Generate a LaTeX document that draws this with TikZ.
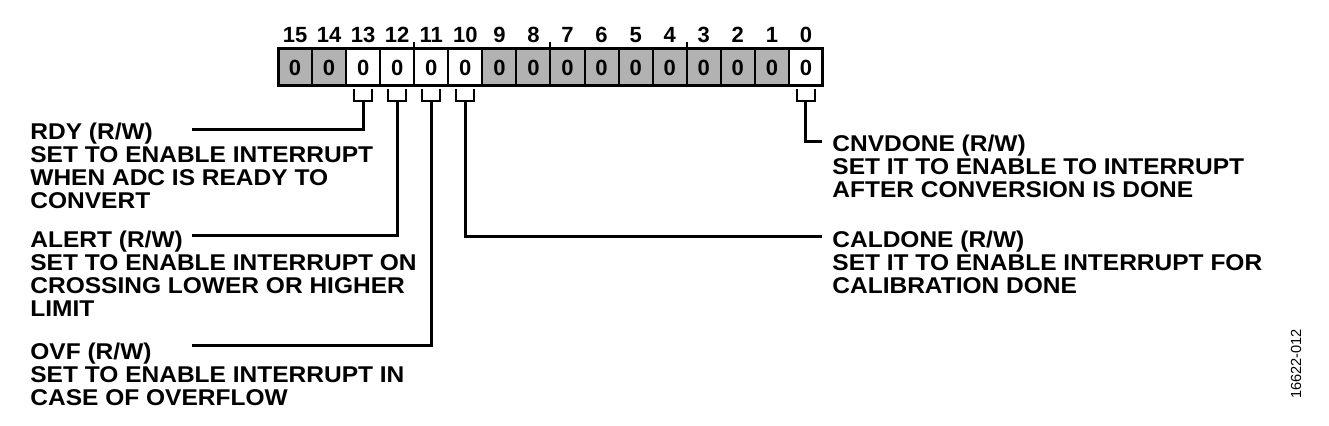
\documentclass[tikz,border=0pt]{standalone}
\usepackage{fontspec}
\setmainfont{Liberation Sans}
\newfontfamily\labelfont{Liberation Sans}[FakeStretch=1.075]
\usetikzlibrary{matrix,positioning}

\tikzset{
  cell/.style={draw, line width=1pt, fill=black!30, minimum width=17.03pt, minimum height=18.5pt,
    inner sep=0pt, outer sep=0pt, font=\fontsize{11}{11}\selectfont\bfseries},
  on/.style={fill=white},
  bitnum/.style={inner sep=0pt, font=\fontsize{11}{11}\selectfont\bfseries},
  field/.style={align=left, anchor=north west, inner sep=0pt, font=\labelfont\fontsize{11.4}{11.35}\selectfont\bfseries},
  wire/.style={line width=1.5pt},
}

\begin{document}
\begin{tikzpicture}[x=0.5pt,y=-0.5pt]
\useasboundingbox (0,0) rectangle (1329,426);
\matrix (reg) at (277,48) [matrix of nodes, anchor=north west, inner sep=0pt, outer sep=0pt,
column sep={17.03pt,between origins}, nodes={cell}]
{
|(c15)| 0 & |(c14)| 0 & |[on](c13)| 0 & |[on](c12)| 0 & |[on](c11)| 0 & |[on](c10)| 0 & |(c9)| 0 & |(c8)| 0 &
|(c7)| 0 & |(c6)| 0 & |(c5)| 0 & |(c4)| 0 & |(c3)| 0 & |(c2)| 0 & |(c1)| 0 & |[on](c0)| 0 \\
};
\draw[wire] (c15.north west) rectangle (c0.south east);
\foreach \b in {0,...,15} \node[bitnum, above=3pt] (n\b) at (c\b.north) {\b};
\foreach \b in {12,8,4} \draw[line width=1pt] (c\b.north east) -- ++(0,-7);
% brackets under the enable bits
\foreach \b in {13,12,11,10,0} {
  \draw[line width=1pt] (c\b.south) ++(-9,3) |- ++(18,12) -- ++(0,-12);
  \path (c\b.south) ++(0,15) coordinate (b\b);
}

\node[field] (rdy) at (30,123) {RDY (R/W)\\SET TO ENABLE INTERRUPT\\WHEN ADC IS READY TO\\CONVERT};
\node[field] (alert) at (30,231) {ALERT (R/W)\\SET TO ENABLE INTERRUPT ON\\CROSSING LOWER OR HIGHER\\LIMIT};
\node[field] (ovf) at (30,343) {OVF (R/W)\\SET TO ENABLE INTERRUPT IN\\CASE OF OVERFLOW};
\node[field] (cnvdone) at (832,135) {CNVDONE (R/W)\\SET IT TO ENABLE TO INTERRUPT\\AFTER CONVERSION IS DONE};
\node[field] (caldone) at (832,231) {CALDONE (R/W)\\SET IT TO ENABLE INTERRUPT FOR\\CALIBRATION DONE};

\coordinate (rdyend) at (192,130);
\coordinate (alertend) at (192,236);
\coordinate (ovfend) at (192,346);
\coordinate (cnvend) at (822,142);
\coordinate (calend) at (822,237);
\draw[wire] (b13) |- (rdyend);
\draw[wire] (b12) |- (alertend);
\draw[wire] (b11) |- (ovfend);
\draw[wire] (b10) |- (calend);
\draw[wire] (b0) |- (cnvend);

\node[rotate=90, inner sep=0pt, font=\fontsize{7.3}{7.3}\selectfont] (figid) at (1296,364) {16622-012};
\end{tikzpicture}
\end{document}
